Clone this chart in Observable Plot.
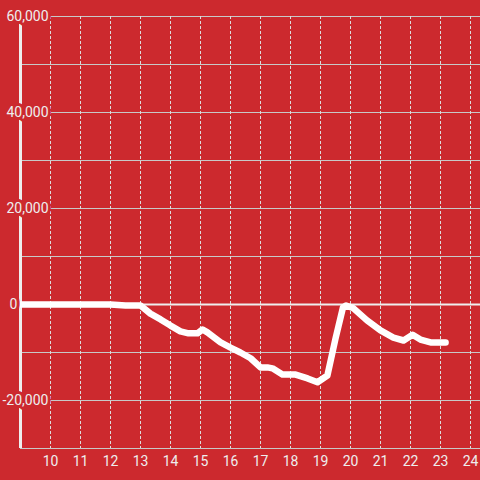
<!DOCTYPE html>
<html><head><meta charset="utf-8">
<script src="https://cdn.jsdelivr.net/npm/d3@7"></script>
<script src="https://cdn.jsdelivr.net/npm/@observablehq/plot@0.6"></script>
<style>html,body{margin:0;padding:0;background:#cc292e;overflow:hidden;}</style>
</head><body><div id="chart"></div>
<script>
const hours = [8.9, 12, 12.5, 13, 13.33, 13.67, 14, 14.33, 14.6, 14.9, 15.07, 15.23, 15.67, 16, 16.33, 16.67, 17, 17.23, 17.4, 17.73, 18.17, 18.57, 18.9, 19.23, 19.5, 19.75, 19.85, 20.1, 20.55, 21, 21.43, 21.77, 22.07, 22.33, 22.67, 23.17];
const values = [0, 0, -200, -200, -1900, -3100, -4400, -5600, -6000, -6000, -5200, -5800, -7900, -9000, -10000, -11200, -13100, -13100, -13300, -14600, -14600, -15400, -16200, -14800, -7100, -600, -200, -800, -3300, -5400, -6900, -7500, -6300, -7300, -7900, -7900];
const xTicks = [10, 11, 12, 13, 14, 15, 16, 17, 18, 19, 20, 21, 22, 23, 24];
const yTicks = [60000, 40000, 20000, 0, -20000];
const yLabels = ["60,000", "40,000", "20,000", "0", "-20,000"];
const gridY = [-30000, -20000, -10000, 10000, 20000, 30000, 40000, 50000, 60000];

const data = hours.map((h, i) => ({h, v: values[i]}));
const labels = yTicks.map((v, i) => ({v, t: yLabels[i]}));
const bg = "#cc292e";
const txt = "#eeeeee";
const labelMark = (rows, dx) => Plot.text(rows, {
  x: () => 9, y: "v", text: "t", textAnchor: "start", dx,
  fill: txt, stroke: bg, strokeWidth: 6, paintOrder: "stroke", strokeLinejoin: "miter", fontSize: 14
});

const chart = Plot.plot({
  width: 480, height: 480,
  marginTop: 16, marginBottom: 32, marginLeft: 20, marginRight: 0,
  x: {domain: [9, 24.3333], axis: null, label: null},
  y: {domain: [-30000, 60000], axis: null, label: null},
  style: {background: bg, color: txt, fontFamily: "Roboto, sans-serif", fontSize: "14px"},
  marks: [
    Plot.ruleY(gridY, {stroke: "#c8c8c8", strokeWidth: 1}),
    Plot.ruleX(xTicks, {stroke: "#dddddd", strokeWidth: 1, strokeDasharray: "3,2"}),
    Plot.ruleY([0], {stroke: txt, strokeWidth: 2}),
    Plot.ruleX([9], {stroke: txt, strokeWidth: 3}),
    Plot.line(data, {x: "h", y: "v", stroke: "#ffffff", strokeWidth: 6.5, strokeLinejoin: "round"}),
    Plot.axisX(xTicks, {tickSize: 0, tickPadding: 8, fontSize: 14, tickFormat: d => String(d), fill: txt, label: null}),
    labelMark(labels.filter(d => d.v > 0), -14),
    labelMark(labels.filter(d => d.v === 0), -11),
    labelMark(labels.filter(d => d.v < 0), -18)
  ]
});
document.getElementById("chart").appendChild(chart);
</script>
</body></html>
